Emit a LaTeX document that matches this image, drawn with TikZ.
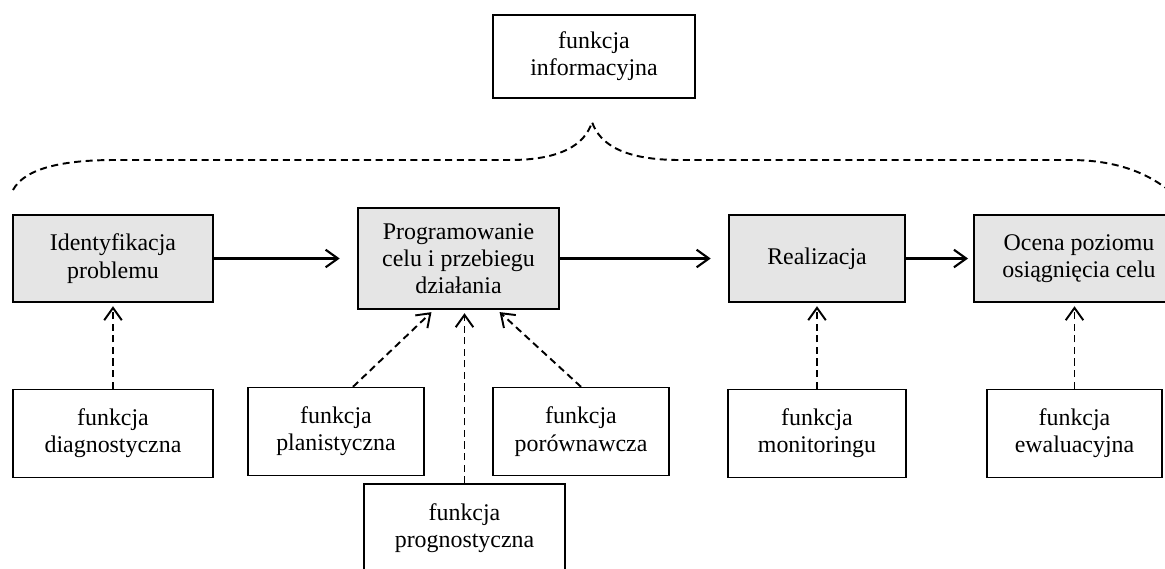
\documentclass[tikz,border=0pt]{standalone}
\usepackage{fontspec}
\setmainfont{Liberation Serif}
\usepackage{tikz}
\usetikzlibrary{positioning, arrows.meta, calc}
\tikzset{>={Straight Barb[length=7pt,width=10pt]}}
\tikzset{etap/.style={draw, line width=0.8pt, fill=black!10, align=center, inner sep=0pt, minimum height=1.74cm},
  funkcja/.style={draw, line width=0.8pt, fill=white, align=center, inner sep=0pt, minimum height=1.76cm},
  przerywana/.style={dash pattern=on 4pt off 2.6pt, line width=1.1pt},
  ciagla/.style={->, line width=1.2pt}}

\begin{document}
\begin{tikzpicture}[font=\fontsize{13.6}{15.5}\selectfont]
\useasboundingbox (0,0) rectangle (23.3,-11.36);
% gorny wezel i klamra
\node[funkcja, minimum width=4.04cm, minimum height=1.66cm] at (11.88,-1.13)(info) {funkcja\\informacyjna};
\draw[przerywana] (0.26,-3.8) .. controls (0.5,-3.35) and (1.3,-3.2) .. (2.3,-3.2) -- (10.2,-3.2)
  .. controls (11.2,-3.2) and (11.7,-2.9) .. (11.84,-2.44)
  .. controls (12.0,-2.9) and (12.5,-3.2) .. (13.6,-3.2) -- (21.4,-3.2)
  .. controls (22.3,-3.2) and (22.9,-3.45) .. (23.3,-3.75);
% etapy
\node[etap, minimum width=4cm] at (2.26,-5.17)(ident) {Identyfikacja\\problemu};
\node[etap, minimum width=4.02cm, minimum height=2.02cm] at (9.17,-5.17)(prog) {Programowanie\\celu i przebiegu\\działania};
\node[etap, minimum width=3.52cm] at (16.34,-5.17)(real) {Realizacja};
\node[etap, minimum width=4.2cm] at (21.58,-5.17)(ocena) {Ocena poziomu\\osiągnięcia celu};
\draw[ciagla, shorten >=10pt] (ident) -- (prog);
\draw[ciagla, shorten >=10pt] (prog) -- (real);
\draw[ciagla, shorten >=3pt] (real) -- (ocena);
% funkcje
\node[funkcja, minimum width=4cm, below=1.72cm of ident](diag) {funkcja\\diagnostyczna};
\node[funkcja, minimum width=3.52cm] at (6.72,-8.63)(plan) {funkcja\\planistyczna};
\node[funkcja, minimum width=3.52cm] at (11.62,-8.63)(porow) {funkcja\\porównawcza};
\node[funkcja, minimum width=4.02cm] at (9.29,-10.56)(progn) {funkcja\\prognostyczna};
\node[funkcja, minimum width=3.56cm, below=1.72cm of real](monit) {funkcja\\monitoringu};
\node[funkcja, minimum width=3.5cm, below=1.72cm of ocena, xshift=-0.09cm](ewal) {funkcja\\ewaluacyjna};
\draw[->, przerywana, shorten >=2pt] (diag) -- (ident);
\draw[->, przerywana, shorten >=2pt] ($(plan.north)+(0.34,0)$) -- ($(prog.south)+(-0.49,0)$);
\draw[->, przerywana, shorten >=2pt] (progn.north) -- (progn.north |- prog.south);
\draw[->, przerywana, shorten >=2pt] (porow.north) -- ($(prog.south)+(0.77,0)$);
\draw[->, przerywana, shorten >=2pt] (monit.north) -- (monit.north |- real.south);
\draw[->, przerywana, shorten >=2pt] (ewal.north) -- (ewal.north |- ocena.south);
\end{tikzpicture}
\end{document}
